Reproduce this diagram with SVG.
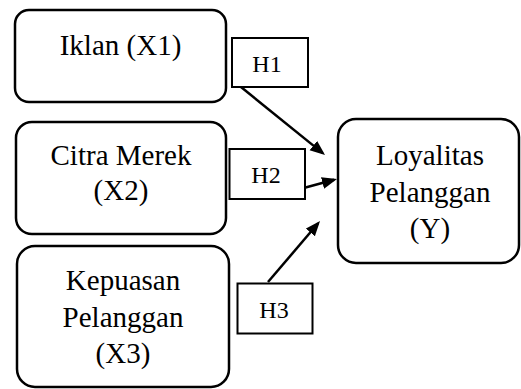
<svg xmlns="http://www.w3.org/2000/svg" width="521" height="389" viewBox="0 0 521 389">
<style>
.node{fill:#fff;stroke:#000;stroke-width:2.5}
.lbl{fill:#fff;stroke:#000;stroke-width:2}
text{fill:#000;text-anchor:middle}
.conn{stroke:#000;stroke-width:2.5;fill:none;marker-end:url(#arr)}
</style>
<defs>
<marker id="arr" markerUnits="userSpaceOnUse" markerWidth="16" markerHeight="13" refX="12" refY="6" orient="auto">
<path d="M0,0 L15,6 L0,12 z" fill="#000"/>
</marker>
</defs>
<rect width="521" height="389" fill="#fff"/>
<g font-family="Liberation Serif, DejaVu Serif, serif" font-size="29">
<g id="x1">
<rect class="node" x="15" y="10" width="211" height="92" rx="14"/>
<text x="120.5" y="55">Iklan (X1)</text>
</g>
<g id="x2">
<rect class="node" x="16" y="122" width="210" height="112" rx="16"/>
<text x="121" y="165">Citra Merek</text>
<text x="121" y="200">(X2)</text>
</g>
<g id="x3">
<rect class="node" x="17" y="246" width="212" height="141" rx="18"/>
<text x="123" y="290">Kepuasan</text>
<text x="123" y="326.5">Pelanggan</text>
<text x="123" y="363">(X3)</text>
</g>
<g id="y">
<rect class="node" x="338" y="119" width="181" height="144" rx="18"/>
<text x="430" y="165">Loyalitas</text>
<text x="430" y="201.5">Pelanggan</text>
<text x="430" y="237.5">(Y)</text>
</g>
<g id="connectors">
<line class="conn" x1="241" y1="87" x2="322.7" y2="153.1"/>
<line class="conn" x1="300" y1="189" x2="334.1" y2="179.8"/>
<line class="conn" x1="268" y1="282" x2="318.1" y2="223.3"/>
</g>
<g id="h1" font-size="24">
<rect class="lbl" x="232" y="38" width="76" height="49"/>
<text x="267" y="71.5">H1</text>
</g>
<g id="h2" font-size="24">
<rect class="lbl" x="229.5" y="149" width="75.5" height="50"/>
<text x="266" y="183">H2</text>
</g>
<g id="h3" font-size="24">
<rect class="lbl" x="237.5" y="283.5" width="75" height="50"/>
<text x="274" y="317.5">H3</text>
</g>
</g>
</svg>
